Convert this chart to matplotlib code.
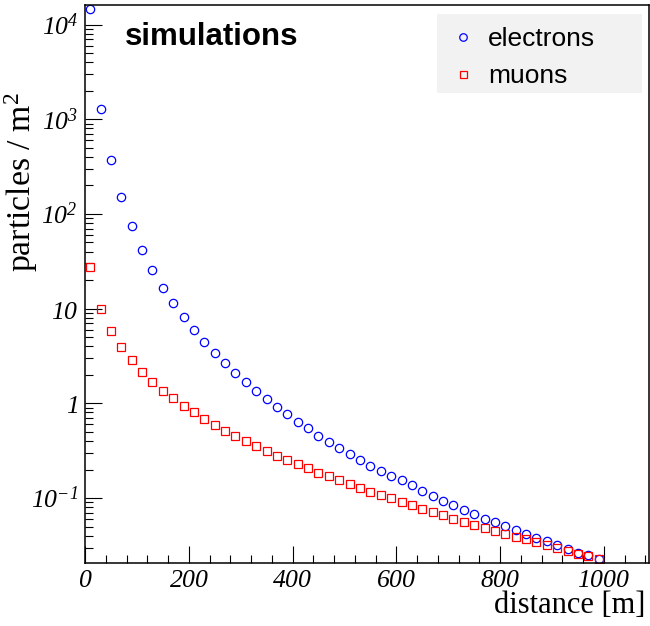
import matplotlib
matplotlib.use("Agg")
import matplotlib.pyplot as plt
from matplotlib.patches import Rectangle
from matplotlib.ticker import FixedLocator, MultipleLocator, FuncFormatter
import numpy as np

# ---- data -----------------------------------------------------------
distance = [10, 30, 50, 70, 90, 110, 130, 150, 170, 190,
            210, 230, 250, 270, 290, 310, 330, 350, 370, 390,
            410, 430, 450, 470, 490, 510, 530, 550, 570, 590,
            610, 630, 650, 670, 690, 710, 730, 750, 770, 790,
            810, 830, 850, 870, 890, 910, 930, 950, 970, 990]

electrons = [14580, 1273, 373, 151, 74.5, 41.6, 25.4, 16.5, 11.4, 8.1,
             5.94, 4.44, 3.40, 2.64, 2.09, 1.68, 1.36, 1.11, 0.914, 0.765,
             0.640, 0.545, 0.455, 0.390, 0.337, 0.289, 0.252, 0.219, 0.193, 0.171,
             0.155, 0.136, 0.119, 0.105, 0.0937, 0.085, 0.0747, 0.0678, 0.0604, 0.0558,
             0.0506, 0.0459, 0.0420, 0.0381, 0.0354, 0.0321, 0.0287, 0.0264, 0.0248, 0.0229]

muons = [27.5, 9.97, 5.85, 3.93, 2.84, 2.14, 1.68, 1.36, 1.14, 0.944,
         0.803, 0.688, 0.594, 0.514, 0.452, 0.403, 0.357, 0.316, 0.280, 0.252,
         0.227, 0.206, 0.185, 0.169, 0.155, 0.1395, 0.1276, 0.1166, 0.1069, 0.0993,
         0.0907, 0.0837, 0.0771, 0.0711, 0.0656, 0.0604, 0.0558, 0.0523, 0.0482, 0.0451,
         0.0420, 0.0390, 0.0366, 0.0340, 0.0316, 0.0299, 0.0276, 0.0258, 0.0246, 0.0229]

x_ticks = [0, 200, 400, 600, 800, 1000]
y_ticks = [0.1, 1, 10, 100, 1000, 10000]
y_tick_labels = ["$10^{-1}$", "$1$", "$10$", "$10^{2}$", "$10^{3}$", "$10^{4}$"]

# ---- fonts (ROOT-like: Times italic for numbers, Helvetica for text) --
plt.rcParams["mathtext.fontset"] = "custom"
plt.rcParams["mathtext.rm"] = "Liberation Serif:italic"
plt.rcParams["mathtext.it"] = "Liberation Serif:italic"
plt.rcParams["mathtext.sf"] = "Liberation Serif"

W, H = 650, 626
fig = plt.figure(figsize=(W / 100, H / 100), dpi=100)
ax = fig.add_axes([85 / W, 1 - 563 / H, (649 - 85) / W, (563 - 5) / H])

ax.set_yscale("log")
ax.set_xlim(0, 1087)
ax.set_ylim(0.0206, 16070)

ax.plot(distance, electrons, linestyle="none", marker="o", markersize=6.0,
        markerfacecolor="none", markeredgecolor="#0000ff", markeredgewidth=0.9,
        label="electrons")
ax.plot(distance, muons, linestyle="none", marker="s", markersize=5.6,
        markerfacecolor="none", markeredgecolor="#ff0000", markeredgewidth=0.9,
        label="muons")

# ---- ticks ----------------------------------------------------------
ax.xaxis.set_major_locator(FixedLocator(x_ticks))
ax.xaxis.set_minor_locator(MultipleLocator(40))
ax.xaxis.set_major_formatter(FuncFormatter(lambda v, p: f"${int(v)}$"))
ax.yaxis.set_major_locator(FixedLocator(y_ticks))
ax.yaxis.set_minor_locator(FixedLocator(
    [m * 10.0 ** e for e in range(-2, 5) for m in range(2, 10)]))
ax.yaxis.set_major_formatter(FuncFormatter(
    lambda v, p: y_tick_labels[y_ticks.index(v)] if v in y_ticks else ""))
ax.yaxis.set_minor_formatter(FuncFormatter(lambda v, p: ""))

ax.tick_params(which="both", direction="in", top=False, right=False,
               width=0.8, colors="black", labelsize=18.5)
ax.tick_params(which="major", length=12)
ax.tick_params(which="minor", length=6)
ax.tick_params(axis="x", which="major", pad=3)
ax.tick_params(axis="y", which="major", pad=5)
for spine in ax.spines.values():
    spine.set_linewidth(1.1)

# ---- axis titles, placed like ROOT (aligned to the axis ends) -------
fig.text(645 / W, 1 - 613 / H, "distance [m]", family="Liberation Serif",
         fontsize=22, ha="right", va="baseline")
fig.text(21 / W, 1 - 92 / H, r"particles / m$^{\mathsf{2}}$",
         family="Liberation Serif", fontsize=24.3, rotation=90,
         ha="center", va="top")

# ---- "simulations" label ---------------------------------------------
fig.text(125 / W, 1 - 45 / H, "simulations", family="Liberation Sans",
         fontweight="bold", fontsize=22.5, ha="left", va="baseline")

# ---- legend with grey box -------------------------------------------
ax.add_patch(Rectangle((437 / W, 1 - 93 / H), (642 - 437) / W, (93 - 14) / H,
                       transform=fig.transFigure, facecolor="#f2f2f2",
                       edgecolor="none", zorder=1))
leg = ax.legend(loc="upper left", bbox_to_anchor=(450 / W, 1 - 27 / H),
                bbox_transform=fig.transFigure, frameon=False,
                prop={"family": "Liberation Sans", "size": 19},
                handlelength=1.0, handletextpad=0.45, borderpad=0.0,
                borderaxespad=0.0, labelspacing=0.5, markerscale=0.9)
leg.set_zorder(5)

fig.savefig("out.png", dpi=100)
